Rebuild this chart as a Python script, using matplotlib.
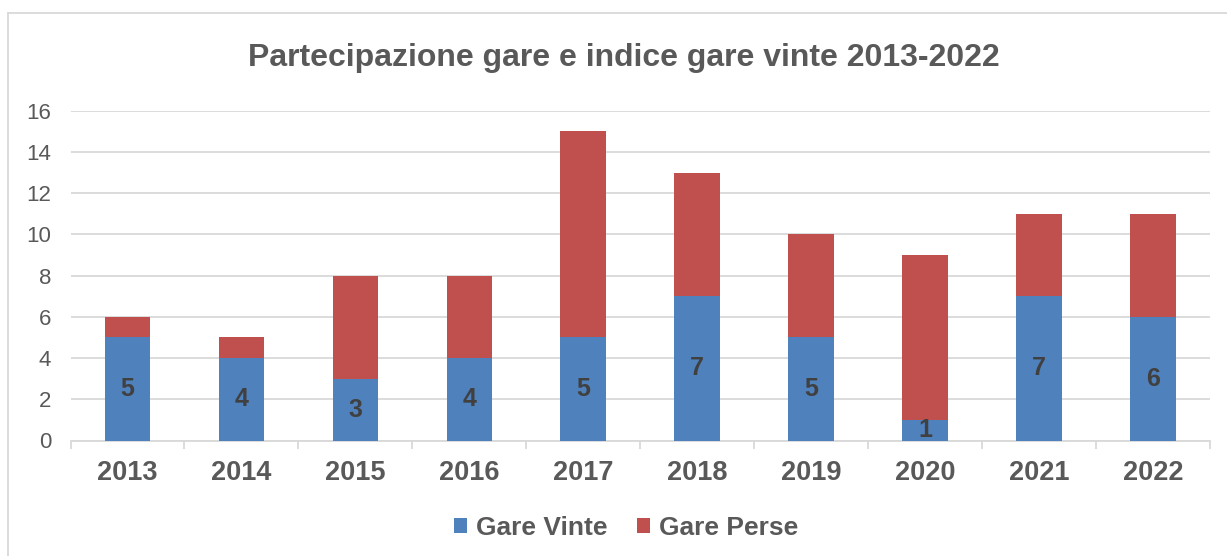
import matplotlib.pyplot as plt
from matplotlib.lines import Line2D
import numpy as np

# data
anni = ['2013', '2014', '2015', '2016', '2017', '2018', '2019', '2020', '2021', '2022']
gare_vinte = [5, 4, 3, 4, 5, 7, 5, 1, 7, 6]
gare_perse = [1, 1, 5, 4, 10, 6, 5, 8, 4, 5]
y_ticks = [0, 2, 4, 6, 8, 10, 12, 14, 16]

blu = '#4F81BD'
rosso = '#C0504D'
grigio = '#595959'

plt.rcParams['font.family'] = ['Liberation Sans', 'DejaVu Sans']

fig = plt.figure(figsize=(12.27, 5.56), dpi=100)
ax = fig.add_axes([70.5 / 1227, 1 - 440.5 / 556, (1210 - 70.5) / 1227, (440.5 - 110.7) / 556])

x = np.arange(len(anni))
ax.bar(x, gare_vinte, width=0.4, color=blu, label='Gare Vinte', zorder=3)
ax.bar(x, gare_perse, width=0.4, bottom=gare_vinte, color=rosso, label='Gare Perse', zorder=3)

# etichette nei segmenti blu
for xi, v in zip(x, gare_vinte):
    ax.text(xi, v / 2, str(v), ha='center', va='center', fontsize=18,
            fontweight='bold', color='#404040', zorder=4, clip_on=True)

ax.set_xlim(-0.5, len(anni) - 0.5)
ax.set_ylim(0, 16)
ax.set_yticks(y_ticks)
ax.set_yticklabels([str(t) for t in y_ticks], fontsize=16, color=grigio)
ax.tick_params(axis='y', length=0, pad=14)
ax.grid(axis='y', color='#D9D9D9', linewidth=1.3, zorder=0)

# tick tra le categorie
ax.set_xticks(np.arange(-0.5, len(anni), 1))
ax.set_xticklabels([])
ax.set_xticks(x, minor=True)
ax.set_xticklabels(anni, minor=True, fontsize=19.5, fontweight='bold', color=grigio)
ax.tick_params(axis='x', which='major', length=6, color='#D9D9D9', width=1.3)
ax.tick_params(axis='x', which='minor', length=0, pad=14)

for s in ['top', 'right', 'left']:
    ax.spines[s].set_visible(False)
ax.spines['bottom'].set_color('#D9D9D9')
ax.spines['bottom'].set_linewidth(1.3)

fig.text(624 / 1227, 1 - 58 / 556, 'Partecipazione gare e indice gare vinte 2013-2022',
         ha='center', va='center', fontsize=23, fontweight='bold', color=grigio)

leg = fig.legend(loc='center', bbox_to_anchor=(626 / 1227, 1 - 528 / 556), ncol=2,
                 frameon=False, handlelength=0.5, handleheight=0.5, handletextpad=0.35,
                 columnspacing=1.1, prop={'size': 19, 'weight': 'bold'})
for t in leg.get_texts():
    t.set_color(grigio)

# bordo del grafico
fig.add_artist(Line2D([8 / 1227, 1], [1 - 13 / 556, 1 - 13 / 556], color='#D9D9D9', linewidth=1.3))
fig.add_artist(Line2D([8 / 1227, 8 / 1227], [0, 1 - 13 / 556], color='#D9D9D9', linewidth=1.3))

fig.savefig('out.png', dpi=100)
